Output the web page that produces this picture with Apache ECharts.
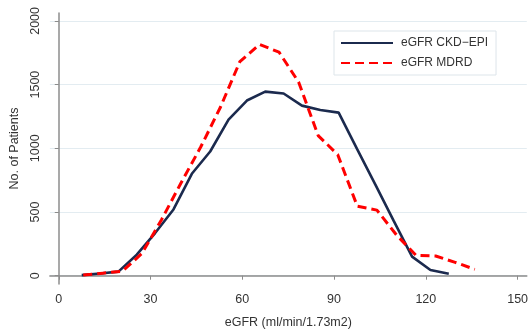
<!DOCTYPE html>
<html>
<head>
<meta charset="utf-8">
<script src="https://cdn.jsdelivr.net/npm/echarts@6/dist/echarts.min.js"></script>
<style>
  html, body { margin: 0; padding: 0; background: #fff; }
  #chart { width: 531px; height: 334px; }
</style>
</head>
<body>
<div id="chart"></div>
<script>
// eGFR bin midpoints and patient counts
const ckdX = [7.5, 13.5, 19.5, 25.5, 31.5, 37.5, 43.5, 49.5, 55.5, 61.5, 67.5, 73.5, 79.5, 85.5, 91.5, 97.5, 103.5, 109.5, 115.5, 121.5, 127.5];
const ckdY = [5, 18, 32, 165, 335, 520, 800, 975, 1225, 1375, 1445, 1430, 1335, 1300, 1280, 995, 715, 430, 150, 45, 15];

const mdrdX = [8, 14.4, 20.8, 27.2, 33.6, 40, 46.4, 52.8, 59.2, 65.6, 72, 78.4, 84.8, 91.2, 97.6, 104, 110.4, 116.8, 123.2, 129.6, 136];
const mdrdY = [5, 20, 35, 175, 440, 730, 1010, 1320, 1680, 1815, 1755, 1520, 1100, 950, 545, 515, 320, 160, 155, 105, 50];

const xTicks = [0, 30, 60, 90, 120, 150];
const yTicks = [0, 500, 1000, 1500, 2000];

const seriesNames = ["eGFR CKD\u2212EPI", "eGFR MDRD"];

const zip = (xs, ys) => xs.map((x, i) => [x, ys[i]]);

const chart = echarts.init(document.getElementById("chart"));

const font = "Liberation Sans, Arial, Helvetica, sans-serif";
const axisGray = "#8c8c8c";

const option = {
  animation: false,
  textStyle: { fontFamily: font },
  grid: {
    left: 48,
    right: 1,
    top: 13,
    bottom: 46,
    containLabel: false,
  },
  legend: {
    orient: "vertical",
    left: 334,
    top: 31,
    width: 174,
    padding: [6, 8, 6, 6],
    itemGap: 8,
    itemWidth: 52,
    itemHeight: 12,
    borderColor: "#dde5ea",
    borderWidth: 1,
    backgroundColor: "#fff",
    itemStyle: { opacity: 0 }, // hide the dot, keep the line sample
    textStyle: { fontSize: 12, color: "#333", padding: [0, 0, 0, 3] },
    data: seriesNames,
  },
  xAxis: {
    type: "value",
    min: -2.9,
    max: 153,
    name: "eGFR (ml/min/1.73m2)",
    nameLocation: "middle",
    nameGap: 32,
    nameTextStyle: { fontSize: 12.5, color: "#333" },
    axisLine: { show: true, lineStyle: { color: axisGray, width: 1.5 } },
    axisTick: { show: true, length: 4, customValues: xTicks, lineStyle: { color: axisGray } },
    axisLabel: { customValues: xTicks, fontSize: 12.5, color: "#333", margin: 9 },
    splitLine: { show: false },
  },
  yAxis: {
    type: "value",
    min: -65,
    max: 2062,
    name: "No. of Patients",
    nameLocation: "middle",
    nameGap: 28,
    nameRotate: 90,
    nameTextStyle: { fontSize: 12.5, color: "#333" },
    axisLine: { show: true, lineStyle: { color: axisGray, width: 1.5 } },
    axisTick: { show: true, length: 4, customValues: yTicks, lineStyle: { color: axisGray } },
    axisLabel: {
      customValues: yTicks,
      rotate: 90,
      fontSize: 12.5,
      color: "#333",
      margin: 8,
      formatter: (v) => String(v),
    },
    splitLine: { show: true, lineStyle: { color: "#e3ecf1", width: 1 } },
  },
  series: [
    {
      name: seriesNames[0],
      type: "line",
      data: zip(ckdX, ckdY),
      symbol: "none",
      lineStyle: { color: "#1b2a4e", width: 2.6 },
      itemStyle: { color: "#1b2a4e" },
      z: 3,
    },
    {
      name: seriesNames[1],
      type: "line",
      data: zip(mdrdX, mdrdY),
      symbol: "none",
      lineStyle: { color: "#ff0000", width: 3, type: [9, 5] },
      itemStyle: { color: "#ff0000" },
      z: 4,
    },
  ],
};

chart.setOption(option);
</script>
</body>
</html>
